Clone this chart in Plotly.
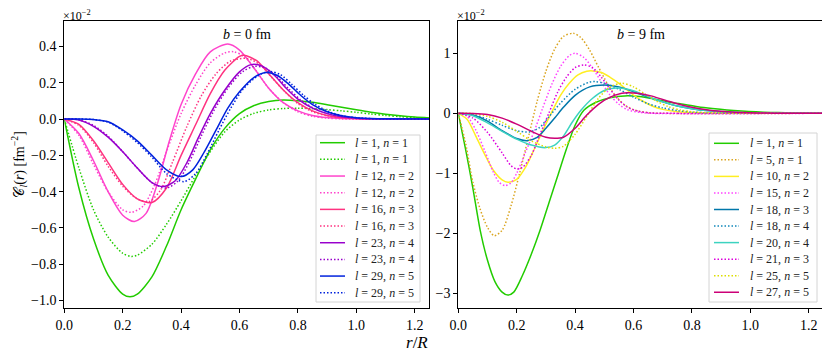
import plotly.graph_objects as go

# ---- panel a: b = 0 fm ----
a_l1_x = [0, 0.05, 0.1, 0.15, 0.2, 0.225, 0.25, 0.3, 0.35, 0.4, 0.45, 0.5, 0.55, 0.6, 0.65, 0.7, 0.75, 0.8, 0.85, 0.9, 0.95, 1.0, 1.05, 1.1, 1.15, 1.2, 1.25]
a_l1_y = [0, -0.38, -0.66, -0.86, -0.965, -0.98, -0.965, -0.87, -0.7, -0.5, -0.33, -0.17, -0.05, 0.03, 0.075, 0.097, 0.105, 0.101, 0.092, 0.079, 0.065, 0.051, 0.038, 0.027, 0.018, 0.011, 0.006]
a_l1d_x = [0, 0.05, 0.1, 0.15, 0.2, 0.23, 0.25, 0.3, 0.35, 0.4, 0.45, 0.5, 0.55, 0.6, 0.65, 0.7, 0.75, 0.8, 0.85, 0.9, 0.95, 1.0, 1.05, 1.1, 1.15, 1.2, 1.25]
a_l1d_y = [0, -0.27, -0.5, -0.65, -0.74, -0.757, -0.75, -0.69, -0.58, -0.45, -0.31, -0.18, -0.07, -0.005, 0.032, 0.05, 0.058, 0.06, 0.057, 0.052, 0.045, 0.037, 0.028, 0.02, 0.013, 0.008, 0.005]
a_l12_x = [0, 0.05, 0.1, 0.15, 0.2, 0.24, 0.28, 0.32, 0.36, 0.4, 0.45, 0.5, 0.56, 0.6, 0.65, 0.7, 0.75, 0.8, 0.85, 0.9, 0.95, 1.0, 1.25]
a_l12_y = [0, -0.08, -0.23, -0.4, -0.53, -0.565, -0.52, -0.35, -0.12, 0.08, 0.25, 0.37, 0.413, 0.38, 0.28, 0.17, 0.09, 0.045, 0.02, 0.008, 0.003, 0.001, 0]
a_l12d_x = [0, 0.05, 0.1, 0.15, 0.2, 0.23, 0.27, 0.31, 0.35, 0.4, 0.45, 0.5, 0.55, 0.58, 0.62, 0.66, 0.7, 0.75, 0.8, 0.85, 0.9, 0.95, 1.0, 1.25]
a_l12d_y = [0, -0.09, -0.25, -0.4, -0.5, -0.514, -0.48, -0.36, -0.18, 0.03, 0.19, 0.31, 0.365, 0.371, 0.34, 0.26, 0.17, 0.09, 0.04, 0.015, 0.005, 0.001, 0, 0]
a_l16_x = [0, 0.05, 0.1, 0.15, 0.2, 0.25, 0.3, 0.35, 0.4, 0.45, 0.5, 0.55, 0.6, 0.615, 0.66, 0.7, 0.75, 0.8, 0.85, 0.9, 0.95, 1.0, 1.05, 1.25]
a_l16_y = [0, -0.03, -0.12, -0.24, -0.36, -0.44, -0.46, -0.38, -0.2, -0.03, 0.14, 0.27, 0.345, 0.352, 0.32, 0.25, 0.16, 0.09, 0.045, 0.02, 0.008, 0.003, 0.001, 0]
a_l16d_x = [0, 0.05, 0.1, 0.15, 0.2, 0.25, 0.29, 0.33, 0.37, 0.42, 0.47, 0.52, 0.57, 0.625, 0.67, 0.71, 0.75, 0.8, 0.85, 0.9, 0.95, 1.0, 1.25]
a_l16d_y = [0, -0.035, -0.13, -0.26, -0.37, -0.44, -0.455, -0.39, -0.24, -0.04, 0.13, 0.25, 0.32, 0.334, 0.3, 0.23, 0.16, 0.085, 0.04, 0.018, 0.007, 0.002, 0]
a_l23_x = [0, 0.05, 0.1, 0.15, 0.2, 0.25, 0.3, 0.34, 0.38, 0.42, 0.46, 0.5, 0.55, 0.6, 0.64, 0.68, 0.72, 0.76, 0.8, 0.85, 0.9, 0.95, 1.0, 1.05, 1.25]
a_l23_y = [0, -0.005, -0.04, -0.1, -0.18, -0.27, -0.35, -0.372, -0.34, -0.24, -0.1, 0.03, 0.16, 0.26, 0.3, 0.29, 0.24, 0.17, 0.11, 0.06, 0.03, 0.013, 0.005, 0.002, 0]
a_l23d_x = [0, 0.05, 0.1, 0.15, 0.2, 0.25, 0.3, 0.35, 0.39, 0.43, 0.47, 0.51, 0.56, 0.61, 0.65, 0.69, 0.73, 0.77, 0.81, 0.86, 0.91, 0.96, 1.01, 1.25]
a_l23d_y = [0, -0.004, -0.035, -0.095, -0.18, -0.27, -0.35, -0.38, -0.34, -0.23, -0.09, 0.04, 0.17, 0.26, 0.29, 0.28, 0.23, 0.165, 0.105, 0.055, 0.027, 0.012, 0.004, 0]
a_l29_x = [0, 0.05, 0.1, 0.15, 0.2, 0.25, 0.3, 0.35, 0.4, 0.44, 0.48, 0.52, 0.56, 0.6, 0.65, 0.69, 0.73, 0.77, 0.81, 0.85, 0.9, 0.95, 1.0, 1.05, 1.1, 1.25]
a_l29_y = [0, 0, -0.003, -0.015, -0.06, -0.12, -0.2, -0.28, -0.317, -0.28, -0.18, -0.06, 0.06, 0.15, 0.23, 0.257, 0.24, 0.19, 0.13, 0.08, 0.04, 0.018, 0.007, 0.003, 0.001, 0]
a_l29d_x = [0, 0.05, 0.1, 0.15, 0.2, 0.25, 0.3, 0.35, 0.41, 0.45, 0.49, 0.53, 0.57, 0.61, 0.66, 0.7, 0.74, 0.78, 0.82, 0.86, 0.91, 0.96, 1.01, 1.06, 1.25]
a_l29d_y = [0, 0, -0.003, -0.017, -0.065, -0.13, -0.21, -0.3, -0.345, -0.3, -0.19, -0.06, 0.06, 0.16, 0.235, 0.262, 0.245, 0.19, 0.13, 0.08, 0.038, 0.016, 0.006, 0.002, 0]

# ---- panel b: b = 9 fm ----
b_l1_x = [0, 0.025, 0.05, 0.075, 0.1, 0.125, 0.15, 0.17, 0.19, 0.22, 0.25, 0.28, 0.31, 0.34, 0.37, 0.4, 0.43, 0.47, 0.52, 0.57, 0.62, 0.67, 0.72, 0.77, 0.82, 0.87, 0.92, 0.97, 1.02, 1.07, 1.12, 1.17, 1.25]
b_l1_y = [0, -0.6, -1.25, -1.95, -2.45, -2.8, -2.98, -3.03, -2.98, -2.7, -2.35, -1.95, -1.5, -1.05, -0.6, -0.2, 0.05, 0.18, 0.26, 0.29, 0.28, 0.24, 0.19, 0.15, 0.11, 0.08, 0.055, 0.037, 0.024, 0.015, 0.009, 0.005, 0.002]
b_l5_x = [0, 0.025, 0.05, 0.075, 0.1, 0.123, 0.15, 0.18, 0.21, 0.24, 0.27, 0.3, 0.33, 0.36, 0.394, 0.42, 0.45, 0.48, 0.51, 0.54, 0.57, 0.6, 0.65, 0.7, 1.25]
b_l5_y = [0, -0.5, -1.15, -1.6, -1.9, -2.04, -1.95, -1.55, -1.0, -0.4, 0.2, 0.7, 1.07, 1.28, 1.333, 1.26, 1.05, 0.77, 0.5, 0.28, 0.14, 0.06, 0.01, 0, 0]
b_l10_x = [0, 0.03, 0.06, 0.09, 0.12, 0.15, 0.17, 0.2, 0.23, 0.26, 0.29, 0.32, 0.35, 0.38, 0.41, 0.44, 0.46, 0.49, 0.52, 0.55, 0.58, 0.61, 0.64, 0.67, 0.7, 0.75, 0.8, 0.85, 0.9, 1.25]
b_l10_y = [0, -0.1, -0.38, -0.68, -0.95, -1.11, -1.15, -1.1, -0.9, -0.6, -0.28, 0.02, 0.3, 0.5, 0.64, 0.7, 0.706, 0.68, 0.6, 0.5, 0.38, 0.27, 0.18, 0.11, 0.065, 0.025, 0.008, 0.002, 0, 0]
b_l15_x = [0, 0.03, 0.06, 0.09, 0.12, 0.14, 0.16, 0.18, 0.2, 0.23, 0.26, 0.29, 0.32, 0.35, 0.38, 0.4, 0.43, 0.46, 0.49, 0.52, 0.55, 0.58, 0.62, 0.66, 1.25]
b_l15_y = [0, -0.05, -0.28, -0.62, -0.98, -1.15, -1.206, -1.16, -1.0, -0.65, -0.3, 0.1, 0.48, 0.78, 0.96, 1.0, 0.93, 0.75, 0.52, 0.3, 0.15, 0.06, 0.015, 0, 0]
b_l18_x = [0, 0.05, 0.1, 0.15, 0.2, 0.235, 0.27, 0.3, 0.33, 0.36, 0.4, 0.45, 0.5, 0.55, 0.6, 0.65, 0.7, 0.75, 0.8, 0.85, 0.9, 0.95, 1.0, 1.1, 1.25]
b_l18_y = [0, -0.03, -0.13, -0.29, -0.42, -0.456, -0.4, -0.25, -0.08, 0.1, 0.3, 0.44, 0.472, 0.44, 0.36, 0.27, 0.19, 0.12, 0.075, 0.045, 0.025, 0.013, 0.006, 0.001, 0]
b_l18d_x = [0, 0.05, 0.1, 0.15, 0.2, 0.245, 0.28, 0.31, 0.35, 0.4, 0.45, 0.47, 0.5, 0.55, 0.6, 0.65, 0.7, 0.75, 0.8, 0.85, 0.9, 1.0, 1.25]
b_l18d_y = [0, -0.02, -0.1, -0.2, -0.29, -0.31, -0.23, -0.06, 0.17, 0.4, 0.52, 0.528, 0.5, 0.4, 0.27, 0.16, 0.09, 0.045, 0.02, 0.008, 0.003, 0, 0]
b_l20_x = [0, 0.05, 0.1, 0.15, 0.2, 0.25, 0.3, 0.33, 0.36, 0.39, 0.42, 0.46, 0.5, 0.54, 0.58, 0.62, 0.66, 0.7, 0.75, 0.8, 0.85, 0.9, 0.95, 1.0, 1.1, 1.25]
b_l20_y = [0, -0.04, -0.16, -0.3, -0.43, -0.53, -0.572, -0.53, -0.38, -0.15, 0.05, 0.25, 0.38, 0.42, 0.4, 0.34, 0.26, 0.19, 0.12, 0.075, 0.045, 0.025, 0.013, 0.006, 0.001, 0]
b_l21_x = [0, 0.05, 0.1, 0.15, 0.18, 0.2, 0.22, 0.25, 0.28, 0.31, 0.34, 0.37, 0.4, 0.43, 0.46, 0.49, 0.52, 0.55, 0.58, 0.62, 0.66, 0.7, 1.25]
b_l21_y = [0, -0.08, -0.32, -0.66, -0.87, -0.928, -0.9, -0.7, -0.35, 0.0, 0.35, 0.6, 0.76, 0.806, 0.76, 0.6, 0.4, 0.22, 0.1, 0.03, 0.005, 0, 0]
b_l25_x = [0, 0.05, 0.1, 0.15, 0.2, 0.25, 0.3, 0.33, 0.36, 0.4, 0.44, 0.48, 0.52, 0.56, 0.6, 0.64, 0.68, 0.72, 0.76, 0.8, 0.85, 0.9, 1.0, 1.25]
b_l25_y = [0, -0.005, -0.05, -0.15, -0.3, -0.46, -0.56, -0.583, -0.55, -0.35, -0.05, 0.25, 0.44, 0.5, 0.44, 0.32, 0.2, 0.11, 0.055, 0.025, 0.01, 0.003, 0, 0]
b_l27_x = [0, 0.05, 0.1, 0.15, 0.2, 0.25, 0.3, 0.33, 0.36, 0.4, 0.44, 0.48, 0.52, 0.56, 0.58, 0.62, 0.66, 0.7, 0.75, 0.8, 0.85, 0.9, 0.95, 1.0, 1.05, 1.1, 1.25]
b_l27_y = [0, -0.002, -0.02, -0.08, -0.18, -0.3, -0.4, -0.417, -0.4, -0.25, -0.03, 0.15, 0.27, 0.335, 0.344, 0.33, 0.29, 0.23, 0.16, 0.1, 0.06, 0.033, 0.017, 0.008, 0.004, 0.002, 0]

SERIF = "'Liberation Serif', 'DejaVu Serif', serif"
DOT = "1.5px,2px"

curves = [
    (a_l1_x, a_l1_y, "<i>l</i> = 1, <i>n</i> = 1", "#22cc00", "solid", "a"),
    (a_l1d_x, a_l1d_y, "<i>l</i> = 1, <i>n</i> = 1", "#22cc00", DOT, "a"),
    (a_l12_x, a_l12_y, "<i>l</i> = 12, <i>n</i> = 2", "#ff44cc", "solid", "a"),
    (a_l12d_x, a_l12d_y, "<i>l</i> = 12, <i>n</i> = 2", "#ff44cc", DOT, "a"),
    (a_l16_x, a_l16_y, "<i>l</i> = 16, <i>n</i> = 3", "#ff3380", "solid", "a"),
    (a_l16d_x, a_l16d_y, "<i>l</i> = 16, <i>n</i> = 3", "#ff3380", DOT, "a"),
    (a_l23_x, a_l23_y, "<i>l</i> = 23, <i>n</i> = 4", "#9900cc", "solid", "a"),
    (a_l23d_x, a_l23d_y, "<i>l</i> = 23, <i>n</i> = 4", "#9900cc", DOT, "a"),
    (a_l29_x, a_l29_y, "<i>l</i> = 29, <i>n</i> = 5", "#0022dd", "solid", "a"),
    (a_l29d_x, a_l29d_y, "<i>l</i> = 29, <i>n</i> = 5", "#0022dd", DOT, "a"),
    (b_l1_x, b_l1_y, "<i>l</i> = 1, <i>n</i> = 1", "#22cc00", "solid", "b"),
    (b_l5_x, b_l5_y, "<i>l</i> = 5, <i>n</i> = 1", "#daa520", DOT, "b"),
    (b_l10_x, b_l10_y, "<i>l</i> = 10, <i>n</i> = 2", "#ffee22", "solid", "b"),
    (b_l15_x, b_l15_y, "<i>l</i> = 15, <i>n</i> = 2", "#ff44ff", DOT, "b"),
    (b_l18_x, b_l18_y, "<i>l</i> = 18, <i>n</i> = 3", "#0077aa", "solid", "b"),
    (b_l18d_x, b_l18d_y, "<i>l</i> = 18, <i>n</i> = 4", "#1188bb", DOT, "b"),
    (b_l20_x, b_l20_y, "<i>l</i> = 20, <i>n</i> = 4", "#3cd3c0", "solid", "b"),
    (b_l21_x, b_l21_y, "<i>l</i> = 21, <i>n</i> = 3", "#dd00dd", DOT, "b"),
    (b_l25_x, b_l25_y, "<i>l</i> = 25, <i>n</i> = 5", "#dddd00", DOT, "b"),
    (b_l27_x, b_l27_y, "<i>l</i> = 27, <i>n</i> = 5", "#cc0077", "solid", "b"),
]

# page body has an 8px margin, so the figure is drawn 8px smaller and
# every reference pixel position is shifted by that amount
OFF = 8
W, H = 830 - OFF, 358 - OFF


def px(x, y):
    return (x - OFF) / W, 1 - (y - OFF) / H


fig = go.Figure()
for x, y, name, col, dash, panel in curves:
    fig.add_trace(go.Scatter(
        x=x, y=y, name=name, mode="lines", showlegend=False,
        line=dict(color=col, width=1.5, dash=dash, shape="spline", smoothing=0.8),
        xaxis="x" if panel == "a" else "x2",
        yaxis="y" if panel == "a" else "y2",
    ))

ax_common = dict(
    showline=True, linecolor="black", linewidth=1, mirror=True,
    ticks="outside", ticklen=4, tickcolor="black", tickwidth=1,
    showgrid=False, zeroline=False, automargin=False,
    tickfont=dict(family=SERIF, size=14, color="black"),
)

ax_l, ax_t = px(64.3, 20.7)
ax_r, ax_b = px(429.3, 308.3)
bx_l, _ = px(458.3, 0)
bx_r, _ = px(823.3, 0)

shapes, annotations = [], []

# legends drawn by hand so the rows can sit as tight as the original
legend_boxes = {
    "a": dict(box=(316, 135, 420, 302), y0=142.7, step=16.67, line=(320, 345), text=353),
    "b": dict(box=(709, 133, 817, 302), y0=143.3, step=16.55, line=(714, 739), text=747.5),
}
for panel, lg in legend_boxes.items():
    x0, y0 = px(lg["box"][0], lg["box"][1])
    x1, y1 = px(lg["box"][2], lg["box"][3])
    shapes.append(dict(type="rect", xref="paper", yref="paper", x0=x0, y0=y0, x1=x1, y1=y1,
                       fillcolor="rgba(255,255,255,0.85)", line=dict(color="#d4d4d4", width=1),
                       layer="above"))
    entries = [c for c in curves if c[5] == panel]
    for i, (_, _, name, col, dash, _) in enumerate(entries):
        yy = lg["y0"] + i * lg["step"]
        lx0, ly = px(lg["line"][0], yy)
        lx1, _ = px(lg["line"][1], yy)
        shapes.append(dict(type="line", xref="paper", yref="paper", x0=lx0, x1=lx1, y0=ly, y1=ly,
                           line=dict(color=col, width=1.5, dash=dash), layer="above"))
        tx, _ = px(lg["text"], yy)
        annotations.append(dict(text=name, xref="paper", yref="paper", x=tx, y=ly,
                                xanchor="left", yanchor="middle", showarrow=False,
                                font=dict(family=SERIF, size=12, color="#222")))


def label(text, x, y, size, **kw):
    xx, yy = px(x, y)
    d = dict(text=text, xref="paper", yref="paper", x=xx, y=yy, showarrow=False,
             xanchor="center", yanchor="middle", font=dict(family=SERIF, size=size, color="black"))
    d.update(kw)
    annotations.append(d)


label("<i>b</i> = 0 fm", 246.8, 34, 14)
label("<i>b</i> = 9 fm", 640.8, 34, 14)
label("×10<sup>−2</sup>", 62, 24, 12, xanchor="left", yanchor="bottom", borderpad=0)
label("×10<sup>−2</sup>", 456, 24, 12, xanchor="left", yanchor="bottom", borderpad=0)
label("𝒞<sub><i>l</i></sub>(<i>r</i>) [fm<sup>−2</sup>]", 20, 164.5, 14, textangle=-90)
label("<i>r</i>/<i>R</i>", 417, 342, 17)

fig.update_layout(
    width=W, height=H,
    margin=dict(l=0, r=0, t=0, b=0),
    plot_bgcolor="white", paper_bgcolor="white",
    showlegend=False,
    xaxis=dict(domain=[ax_l, ax_r], range=[0, 1.25], dtick=0.2, tickformat=".1f", anchor="y", **ax_common),
    yaxis=dict(domain=[ax_b, ax_t], range=[-1.043, 0.542], dtick=0.2, tickformat=".1f", anchor="x", **ax_common),
    xaxis2=dict(domain=[bx_l, bx_r], range=[0, 1.25], dtick=0.2, tickformat=".1f", anchor="y2", **ax_common),
    yaxis2=dict(domain=[ax_b, ax_t], range=[-3.25, 1.543], dtick=1, anchor="x2", **ax_common),
    shapes=shapes,
    annotations=annotations,
)

fig.write_html("out.html")
